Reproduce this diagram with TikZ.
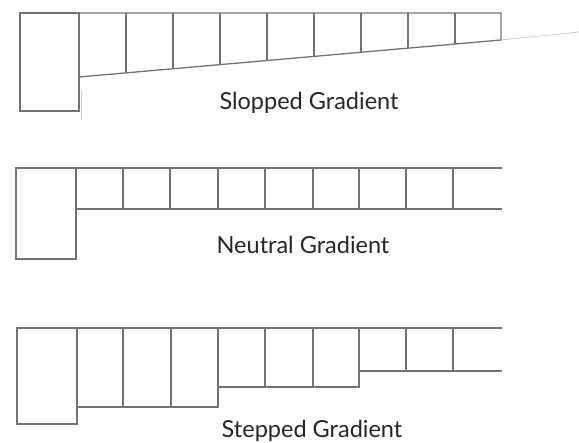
\documentclass[tikz,border=0pt]{standalone}
\usepackage{fontspec}
\setmainfont{Lato}
\begin{document}
\begin{tikzpicture}[x=1pt,y=-1pt,
  wall/.style={draw=black!55,line width=1.3pt,line join=miter},
  faint/.style={draw=black!20,line width=0.8pt},
  lbl/.style={font=\fontsize{23.5}{28}\selectfont,text=black!85,anchor=base,inner sep=0pt}]
\useasboundingbox (0,0) rectangle (579,443);
% ---------- Sloped gradient ----------
\draw[wall] (20,13) rectangle (79,111);
\draw[wall] (79,13) -- (501,13) -- (501,40) -- (79,77) -- cycle;
\foreach \x in {126,173,220,267,314,361,408,455}{
  \pgfmathsetmacro{\yb}{77-(\x-79)*37/422}
  \draw[wall] (\x,13) -- (\x,\yb);
}
\draw[faint] (501,40) -- (579,32);
\draw[faint] (81,90) -- (81,120);
\node[lbl] (sloped) at (309,110) {Slopped Gradient};
% ---------- Neutral gradient ----------
\draw[wall] (16,168) rectangle (76,259);
\draw[wall] (502,168) -- (76,168) -- (76,209) -- (502,209);
\foreach \x in {123,170,218,265,313,359,406,453}{
  \draw[wall] (\x,168) -- (\x,209);
}
\node[lbl] (neutral) at (303,254) {Neutral Gradient};
% ---------- Stepped gradient ----------
\draw[wall] (17,328) rectangle (77,424);
\draw[wall] (502,328) -- (77,328) -- (77,407) -- (218,407) -- (218,387) -- (359,387) -- (359,371) -- (502,371);
\foreach \x in {123,171}{
  \draw[wall] (\x,328) -- (\x,407);
}
\draw[wall] (218,328) -- (218,387);
\foreach \x in {265,313}{
  \draw[wall] (\x,328) -- (\x,387);
}
\draw[wall] (359,328) -- (359,371);
\foreach \x in {406,453}{
  \draw[wall] (\x,328) -- (\x,371);
}
\node[lbl] (stepped) at (312,438) {Stepped Gradient};
\end{tikzpicture}
\end{document}
